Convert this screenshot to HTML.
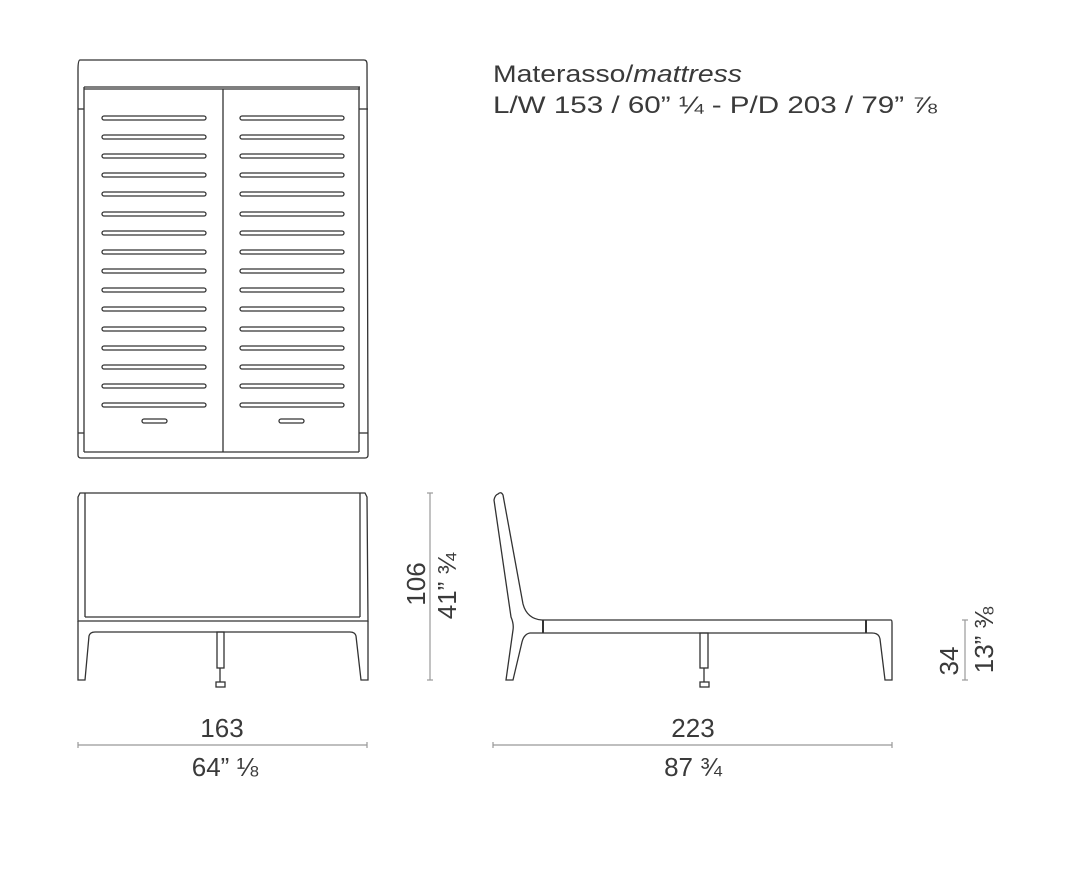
<!DOCTYPE html>
<html><head><meta charset="utf-8"><style>
html,body{margin:0;padding:0;background:#fff;}
svg{display:block}
text{font-family:"Liberation Sans",sans-serif;fill:#3a3a3a;}
</style></head><body>
<svg width="1092" height="872" viewBox="0 0 1092 872" xmlns="http://www.w3.org/2000/svg">
<g fill="none" stroke="#333" stroke-width="1.3">
<!-- top view -->
<path d="M80,60 L364,60 Q367,60 367,64 L368,455 Q368,458 365,458 L81,458 Q78,458 78,455 L78,70 Q78,60 80,60 Z"/>
<line x1="84" y1="87" x2="360" y2="87"/>
<line x1="84" y1="89" x2="360" y2="89"/>
<line x1="84" y1="87" x2="84" y2="452"/>
<line x1="359" y1="87" x2="359" y2="452"/>
<line x1="84" y1="452" x2="359" y2="452"/>
<line x1="223" y1="89" x2="223" y2="452"/>
<line x1="78" y1="109" x2="84" y2="109"/><line x1="359" y1="109" x2="368" y2="109"/>
<line x1="78" y1="433" x2="84" y2="433"/><line x1="359" y1="433" x2="368" y2="433"/>
<g>
<rect x="102" y="116" width="104" height="4" rx="2"/><rect x="240" y="116" width="104" height="4" rx="2"/>
<rect x="102" y="135" width="104" height="4" rx="2"/><rect x="240" y="135" width="104" height="4" rx="2"/>
<rect x="102" y="154" width="104" height="4" rx="2"/><rect x="240" y="154" width="104" height="4" rx="2"/>
<rect x="102" y="173" width="104" height="4" rx="2"/><rect x="240" y="173" width="104" height="4" rx="2"/>
<rect x="102" y="192" width="104" height="4" rx="2"/><rect x="240" y="192" width="104" height="4" rx="2"/>
<rect x="102" y="212" width="104" height="4" rx="2"/><rect x="240" y="212" width="104" height="4" rx="2"/>
<rect x="102" y="231" width="104" height="4" rx="2"/><rect x="240" y="231" width="104" height="4" rx="2"/>
<rect x="102" y="250" width="104" height="4" rx="2"/><rect x="240" y="250" width="104" height="4" rx="2"/>
<rect x="102" y="269" width="104" height="4" rx="2"/><rect x="240" y="269" width="104" height="4" rx="2"/>
<rect x="102" y="288" width="104" height="4" rx="2"/><rect x="240" y="288" width="104" height="4" rx="2"/>
<rect x="102" y="307" width="104" height="4" rx="2"/><rect x="240" y="307" width="104" height="4" rx="2"/>
<rect x="102" y="327" width="104" height="4" rx="2"/><rect x="240" y="327" width="104" height="4" rx="2"/>
<rect x="102" y="346" width="104" height="4" rx="2"/><rect x="240" y="346" width="104" height="4" rx="2"/>
<rect x="102" y="365" width="104" height="4" rx="2"/><rect x="240" y="365" width="104" height="4" rx="2"/>
<rect x="102" y="384" width="104" height="4" rx="2"/><rect x="240" y="384" width="104" height="4" rx="2"/>
<rect x="102" y="403" width="104" height="4" rx="2"/><rect x="240" y="403" width="104" height="4" rx="2"/>
<rect x="142" y="419" width="25" height="4" rx="2"/><rect x="279" y="419" width="25" height="4" rx="2"/>
</g>
<!-- front view -->
<path d="M80,493 L365,493 L367,497 L368,621 L78,621 L78,497 Z"/>
<line x1="85" y1="493" x2="85" y2="617"/>
<line x1="360" y1="493" x2="360" y2="617"/>
<line x1="85" y1="617" x2="360" y2="617"/>
<path d="M78,621 L78,680 L85,680 L89,636 Q90,632 95,632 L350,632 Q355,632 356,636 L361,680 L368,680 L368,621"/>
<rect x="217" y="632" width="7" height="36"/>
<line x1="220" y1="668" x2="220" y2="682"/>
<rect x="216" y="682" width="9" height="5"/>
<!-- side view -->
<path d="M498,494 Q501,491 503,495 L523,604 Q527,619 542,620 L891,620 Q892,620 892,623 L892,680 L885,680 L880,639 Q879,633 872,633 L530,633 Q524,634 522,642 L513,680 L506,680 L513,630 Q514,624 511,617 L494,500 Q495,495 498,494 Z"/>
<line x1="543" y1="620" x2="543" y2="633" stroke-width="2"/>
<line x1="866" y1="620" x2="866" y2="633" stroke-width="2"/>
<rect x="700" y="633" width="8" height="35"/>
<line x1="704" y1="668" x2="704" y2="682"/>
<rect x="700" y="682" width="9" height="5"/>
</g>
<!-- dimension lines -->
<g stroke="#999" stroke-width="1.2" fill="none">
<line x1="78" y1="745" x2="367" y2="745"/><line x1="78" y1="742" x2="78" y2="748"/><line x1="367" y1="742" x2="367" y2="748"/>
<line x1="493" y1="745" x2="892" y2="745"/><line x1="493" y1="742" x2="493" y2="748"/><line x1="892" y1="742" x2="892" y2="748"/>
<line x1="430" y1="493" x2="430" y2="680"/><line x1="427" y1="493" x2="433" y2="493"/><line x1="427" y1="680" x2="433" y2="680"/>
<line x1="965" y1="620" x2="965" y2="680"/><line x1="962" y1="620" x2="968" y2="620"/><line x1="962" y1="680" x2="968" y2="680"/>
</g>
<text x="493" y="82" font-size="24" textLength="249" lengthAdjust="spacingAndGlyphs">Materasso/<tspan font-style="italic">mattress</tspan></text>
<text x="493" y="113" font-size="24" textLength="444" lengthAdjust="spacingAndGlyphs">L/W 153 / 60” ¼ - P/D 203 / 79” ⅞</text>
<text x="222" y="737" font-size="26" text-anchor="middle">163</text>
<text x="225" y="776" font-size="26" text-anchor="middle">64” ⅛</text>
<text x="693" y="737" font-size="26" text-anchor="middle">223</text>
<text x="693" y="776" font-size="26" text-anchor="middle">87 ¾</text>
<text transform="translate(425,584) rotate(-90)" font-size="26" text-anchor="middle">106</text>
<text transform="translate(456,586) rotate(-90)" font-size="26" text-anchor="middle">41” ¾</text>
<text transform="translate(958,661) rotate(-90)" font-size="26" text-anchor="middle">34</text>
<text transform="translate(993,640) rotate(-90)" font-size="26" text-anchor="middle">13” ⅜</text>
</svg>
</body></html>
